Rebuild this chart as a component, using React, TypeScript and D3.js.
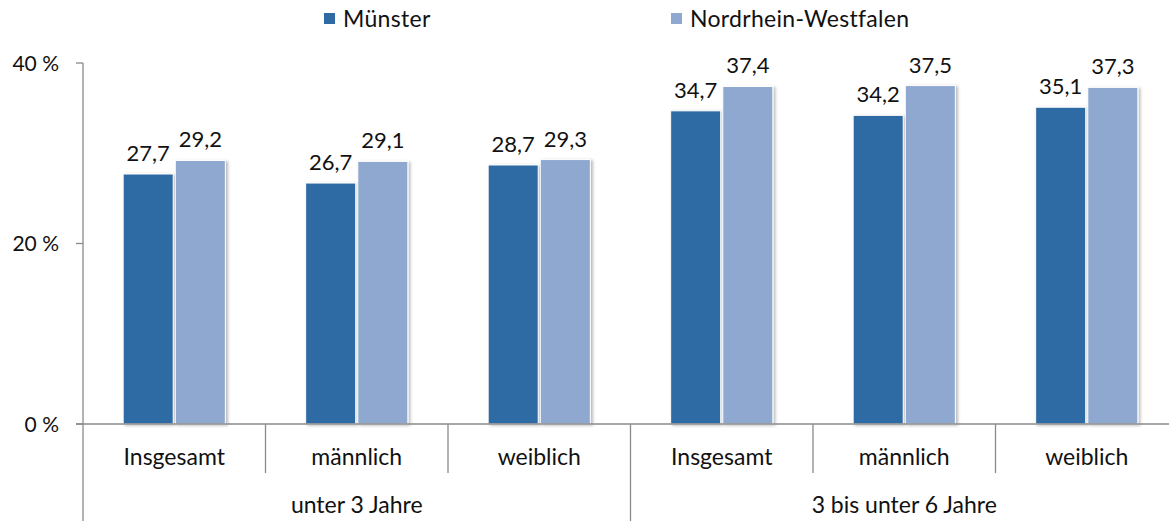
import React from "react";
import * as d3 from "d3";

const categories = ["Insgesamt", "männlich", "weiblich", "Insgesamt", "männlich", "weiblich"];
const groups = ["unter 3 Jahre", "3 bis unter 6 Jahre"];
const seriesNames = ["Münster", "Nordrhein-Westfalen"];
const muenster = [27.7, 26.7, 28.7, 34.7, 34.2, 35.1];
const nrw = [29.2, 29.1, 29.3, 37.4, 37.5, 37.3];
const yTicks = [0, 20, 40];
const colors = ["#2E6AA4", "#8EA8CF"];

const W = 1169;
const H = 521;
const FONT = "Lato, 'Open Sans', sans-serif";

export default function App() {
  const left = 83;
  const right = 1178;
  const top = 63;
  const bottom = 424;
  const y = d3.scaleLinear().domain([0, 40]).range([bottom, top]);
  const idx = categories.map((_, i) => i);
  const x = d3.scaleBand<number>().domain(idx).range([left, right]).padding(0);
  const bw = x.bandwidth();
  const xi = d3
    .scaleBand<number>()
    .domain([0, 1])
    .range([bw * 0.22, bw * 0.78])
    .paddingInner(0.04);
  const series = [muenster, nrw];
  const fmt = (v: number) => v.toFixed(1).replace(".", ",");
  const axisColor = "#8A8A8A";
  const textColor = "#111111";
  const perGroup = categories.length / groups.length;

  return (
    <svg
      width={W}
      height={H}
      style={{ position: "absolute", left: 0, top: 0, background: "#fff" }}
      fontFamily={FONT}
    >
      <defs>
        <filter id="sh" x="-20%" y="-20%" width="140%" height="140%">
          <feDropShadow dx="2" dy="1" stdDeviation="1.5" floodColor="#000" floodOpacity="0.28" />
        </filter>
      </defs>
      {/* legend */}
      {seriesNames.map((s, i) => {
        const lx = i === 0 ? 324 : 671;
        return (
          <g key={s}>
            <rect x={lx} y={13} width={11} height={11} fill={colors[i]} />
            <text x={lx + 19} y={27} fontSize={23} fill={textColor} letterSpacing={0.3}>
              {s}
            </text>
          </g>
        );
      })}
      {/* y axis */}
      <line x1={left} x2={left} y1={top} y2={H} stroke={axisColor} strokeWidth={1.3} />
      {yTicks.map((t) => (
        <g key={t}>
          <line x1={76} x2={left} y1={y(t)} y2={y(t)} stroke={axisColor} strokeWidth={1.3} />
          <text x={59} y={y(t) + 7.5} textAnchor="end" fontSize={21} fill={textColor}>
            {t} %
          </text>
        </g>
      ))}
      {/* bars */}
      {idx.map((i) =>
        series.map((vals, s) => (
          <rect
            key={`${i}-${s}`}
            x={(x(i) as number) + (xi(s) as number)}
            y={y(vals[i])}
            width={xi.bandwidth()}
            height={bottom - y(vals[i])}
            fill={colors[s]}
            stroke="#fff"
            strokeWidth={1}
            filter="url(#sh)"
          />
        ))
      )}
      {idx.map((i) =>
        series.map((vals, s) => (
          <text
            key={`l-${i}-${s}`}
            x={(x(i) as number) + (xi(s) as number) + xi.bandwidth() / 2}
            y={y(vals[i]) - 13}
            textAnchor="middle"
            fontSize={22}
            fill={textColor}
          >
            {fmt(vals[i])}
          </text>
        ))
      )}
      {/* x axis */}
      <line x1={76} x2={W} y1={bottom} y2={bottom} stroke={axisColor} strokeWidth={1.3} />
      {idx.map((i) => {
        const xs = x(i) as number;
        const isGroupStart = i % perGroup === 0;
        return (
          <g key={`c-${i}`}>
            {i > 0 && (
              <line
                x1={xs}
                x2={xs}
                y1={bottom}
                y2={isGroupStart ? H : 473}
                stroke={axisColor}
                strokeWidth={1.3}
              />
            )}
            <text x={xs + bw / 2} y={465} textAnchor="middle" fontSize={23} fill={textColor}>
              {categories[i]}
            </text>
          </g>
        );
      })}
      {groups.map((g, gi) => {
        const x0 = x(gi * perGroup) as number;
        const x1 = (x(gi * perGroup + perGroup - 1) as number) + bw;
        return (
          <text key={g} x={(x0 + x1) / 2} y={513} textAnchor="middle" fontSize={23} fill={textColor}>
            {g}
          </text>
        );
      })}
    </svg>
  );
}
